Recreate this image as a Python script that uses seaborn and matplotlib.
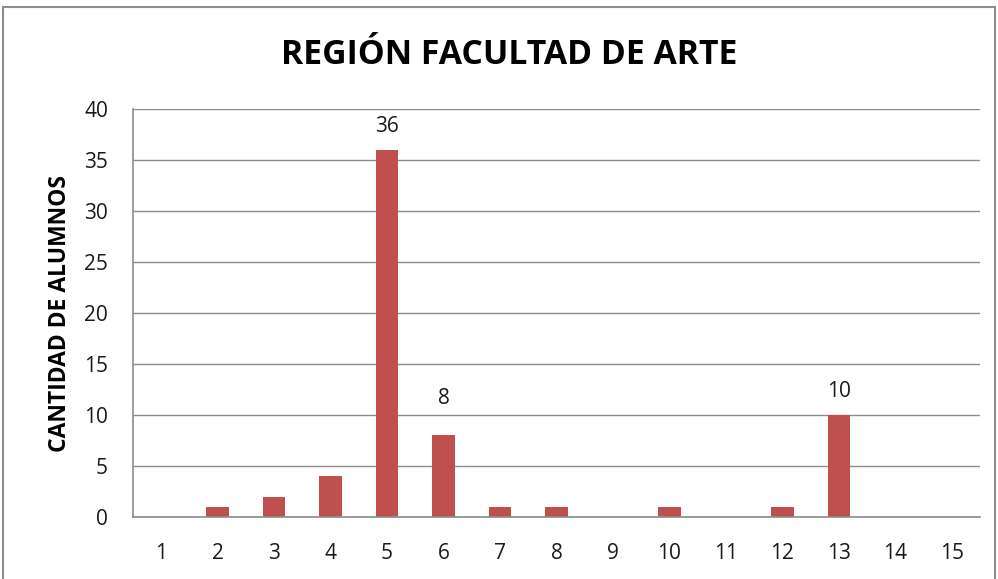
import matplotlib
matplotlib.use("Agg")
import matplotlib.pyplot as plt
import seaborn as sns
import pandas as pd
from matplotlib.patches import Rectangle

categories = [str(i) for i in range(1, 16)]
values = [0, 1, 2, 4, 36, 8, 1, 1, 0, 1, 0, 1, 10, 0, 0]
labeled = {"5": 36, "6": 8, "13": 10}
title = "REGIÓN FACULTAD DE ARTE"
ylabel = "CANTIDAD DE ALUMNOS"
yticks = [0, 5, 10, 15, 20, 25, 30, 35, 40]

sns.set_theme(style="white")
plt.rcParams['font.family'] = ['Open Sans', 'DejaVu Sans']

df = pd.DataFrame({"cat": categories, "val": values})

fig = plt.figure(figsize=(9.98, 5.79), dpi=100)
ax = fig.add_axes([133/998, 62/579, 847/998, 408/579])
sns.barplot(data=df, x="cat", y="val", order=categories, color="#C0504D",
            width=0.4, saturation=1, ax=ax, edgecolor="none")

ax.set_ylim(0, 40)
ax.set_yticks(yticks)
ax.set_yticklabels([str(v) for v in yticks], fontsize=15, color="#1a1a1a")
ax.set_xticks(range(len(categories)))
ax.set_xticklabels(categories, fontsize=15, color="#1a1a1a")
ax.tick_params(axis="x", length=0, pad=19)
ax.tick_params(axis="y", length=0, pad=18)
ax.yaxis.grid(True, color="#8c8c8c", linewidth=1)
ax.set_axisbelow(True)
for s in ["top", "right"]:
    ax.spines[s].set_visible(False)
for s in ["left", "bottom"]:
    ax.spines[s].set_color("#8c8c8c")
    ax.spines[s].set_linewidth(1.2)
ax.set_xlabel("")
ax.set_ylabel(ylabel, fontsize=16.5, fontweight="bold", color="black", labelpad=9)

offsets = {"5": 1.3, "6": 2.6, "13": 1.3}
for i, c in enumerate(categories):
    if c in labeled:
        ax.text(i, values[i] + offsets[c], str(labeled[c]), ha="center", va="bottom",
                fontsize=15, color="#1a1a1a")

fig.text(509/998, 1 - 55/579, title, ha="center", va="center", fontsize=24.3,
         fontweight="bold", color="black")

fig.add_artist(Rectangle((3/998, -0.05), 992/998, 1.05 - 7/579, transform=fig.transFigure,
                         fill=False, edgecolor="#8c8c8c", linewidth=1.5))

fig.savefig("out.png", dpi=100)
